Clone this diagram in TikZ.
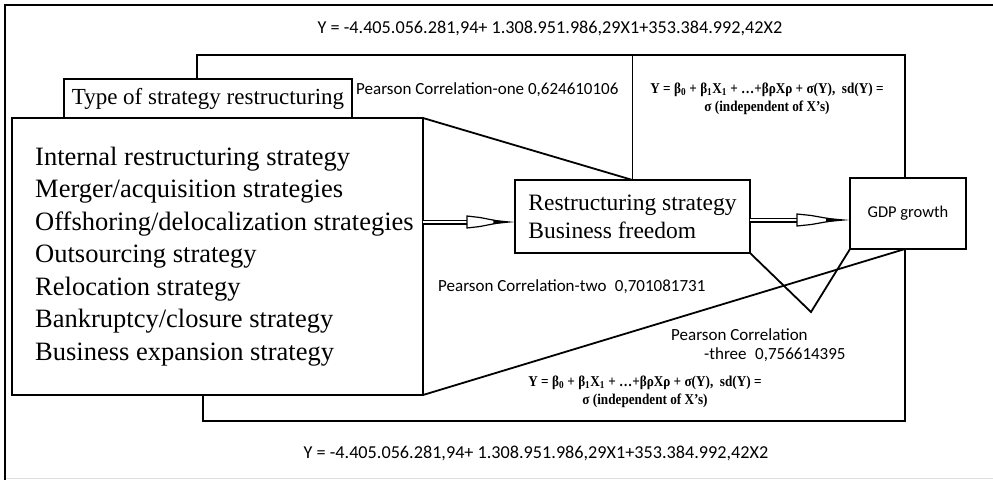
\documentclass[tikz,border=0pt]{standalone}
\usepackage{fontspec}
\setmainfont{Liberation Serif}
\newfontfamily\calfont{Carlito}
\newfontfamily\frmfont[FakeStretch=0.88]{Liberation Serif}
\usetikzlibrary{calc}
\begin{document}
\begin{tikzpicture}[x=1pt,y=-1pt,line join=miter,
  ln/.style={line width=1.8pt},
  box/.style={draw,line width=1.8pt,inner sep=0pt,outer sep=0pt},
  big/.style={font=\fontsize{23}{28}\selectfont},
  lst/.style={font=\fontsize{26.5}{30}\selectfont,inner sep=0pt},
  cal/.style={font=\calfont\fontsize{17}{20}\selectfont,inner sep=0pt},
  yeq/.style={font=\calfont\fontsize{18.2}{20}\selectfont,inner sep=0pt},
  frm/.style={font=\frmfont\bfseries\fontsize{15}{18.5}\selectfont,inner sep=0pt,align=center},
  dbl/.style={double,double distance=2.4pt,line width=1.3pt},
  pics/hhead/.style={code={
    \draw[line width=1.2pt,fill=white] (0,-6) -- (0.27*#1,-4.5) -- (0.75*#1,0) -- (0.27*#1,4.5) -- (0,6) -- cycle;
    \fill (0.55*#1,-2.2) -- (#1,0) -- (0.55*#1,2.2) -- cycle;
  }}]
\useasboundingbox (0,0) rectangle (993,480);
% outer frame
\draw[line width=2pt] (4,5) -- (993,5);
\draw[line width=2pt] (5,4) -- (5,480);
\draw[gray!25,line width=1pt] (6,478) -- (993,478);

% boxes
\node[box,line width=2.4pt,minimum width=288pt,minimum height=39pt,big] (type) at (208,98.5) {Type of strategy restructuring};
\node[box,minimum width=411pt,minimum height=277pt] (list) at (217.5,256.5) {};
\foreach \t [count=\i] in {Internal restructuring strategy,Merger/acquisition strategies,Offshoring/delocalization strategies,Outsourcing strategy,Relocation strategy,Bankruptcy/closure strategy,Business expansion strategy}
  \node[lst,anchor=base west] (l\i) at (35,132.5+32.5*\i) {\t};
\node[box,minimum width=235pt,minimum height=73pt,font=\fontsize{23.5}{28}\selectfont,align=left] (rs) at (632.5,216.5) {Restructuring strategy\\Business freedom};
\node[box,minimum width=116pt,minimum height=71pt,font=\calfont\fontsize{16.5}{20}\selectfont] (gdp) at (908,213.5) {GDP growth};

% texts
\node[yeq] (ytop) at (550,28) {Y = -4.405.056.281,94+ 1.308.951.986,29X1+353.384.992,42X2};
\node[yeq] (ybot) at (536,453) {Y = -4.405.056.281,94+ 1.308.951.986,29X1+353.384.992,42X2};
\node[cal,anchor=west] (p1) at (356,90) {Pearson Correlation-one 0,624610106};
\node[cal,anchor=west] (p2) at (438,287) {Pearson Correlation-two\enspace 0,701081731};
\node[cal,anchor=west] (p3a) at (671,335) {Pearson Correlation};
\node[cal,anchor=west] (p3b) at (704,355) {-three\enspace 0,756614395};
\node[frm] (f1) at (767,99) {Y = β\textsubscript{0} + β\textsubscript{1}X\textsubscript{1} + …+βρXρ + σ(Y),\ \ sd(Y) =\\σ (independent of X’s)};
\node[frm] (f2) at (645,392) {Y = β\textsubscript{0} + β\textsubscript{1}X\textsubscript{1} + …+βρXρ + σ(Y),\ \ sd(Y) =\\σ (independent of X’s)};

% connectors
\coordinate (tl) at (197,55);
\coordinate (tr) at (905,55);
\draw[ln] (type.north -| tl) -- (tl) -- (tr) -- (gdp.north -| tr);
\draw[ln] (rs.north |- tl) -- (rs.north);
\draw[ln] (list.north east) -- (rs.north);
\coordinate (bl) at (203,421);
\coordinate (br) at (905,421);
\draw[ln] (list.south -| bl) -- (bl) -- (br) -- (gdp.south -| br);
\draw[ln] (list.south east) -- (gdp.south -| br);
\coordinate (vb) at (811,312);
\draw[ln] (rs.south east) -- (vb) -- (gdp.south west);

% arrows
\coordinate (a1h) at (467,222);
\draw[dbl] (list.east |- a1h) -- (a1h);
\pic at (a1h) {hhead=48};
\coordinate (a2h) at (797,220);
\draw[dbl] (rs.east |- a2h) -- (a2h);
\pic at (a2h) {hhead=53};
\end{tikzpicture}
\end{document}
